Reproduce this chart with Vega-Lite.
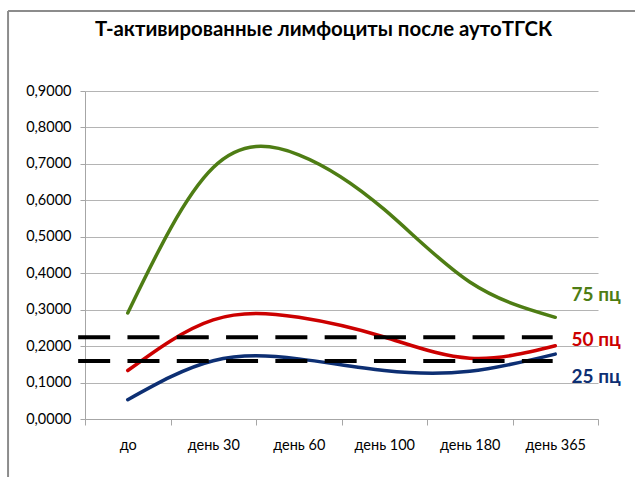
{
  "$schema": "https://vega.github.io/schema/vega-lite/v6.json",
  "width": 513,
  "height": 328,
  "autosize": {"type": "none"},
  "padding": {"left": 85, "top": 91, "right": 37, "bottom": 58},
  "background": "white",
  "title": {
    "text": "Т-активированные лимфоциты после аутоТГСК",
    "font": "Lato",
    "fontSize": 20.4,
    "fontWeight": "bold",
    "color": "#000000",
    "anchor": "middle",
    "dx": -18,
    "offset": -30
  },
  "datasets": {
    "series": [
      {"period": "до", "group": "75 пц", "value": 0.291},
      {"period": "день 30", "group": "75 пц", "value": 0.690},
      {"period": "день 60", "group": "75 пц", "value": 0.725},
      {"period": "день 100", "group": "75 пц", "value": 0.575},
      {"period": "день 180", "group": "75 пц", "value": 0.376},
      {"period": "день 365", "group": "75 пц", "value": 0.279},
      {"period": "до", "group": "50 пц", "value": 0.133},
      {"period": "день 30", "group": "50 пц", "value": 0.272},
      {"period": "день 60", "group": "50 пц", "value": 0.279},
      {"period": "день 100", "group": "50 пц", "value": 0.225},
      {"period": "день 180", "group": "50 пц", "value": 0.167},
      {"period": "день 365", "group": "50 пц", "value": 0.201},
      {"period": "до", "group": "25 пц", "value": 0.053},
      {"period": "день 30", "group": "25 пц", "value": 0.160},
      {"period": "день 60", "group": "25 пц", "value": 0.165},
      {"period": "день 100", "group": "25 пц", "value": 0.133},
      {"period": "день 180", "group": "25 пц", "value": 0.131},
      {"period": "день 365", "group": "25 пц", "value": 0.178}
    ],
    "levels": [
      {"level": 0.224, "from": "до", "to": "день 365"},
      {"level": 0.159, "from": "до", "to": "день 365"}
    ],
    "labels": [
      {"group": "75 пц", "value": 0.341},
      {"group": "50 пц", "value": 0.216},
      {"group": "25 пц", "value": 0.115}
    ]
  },
  "layer": [
    {
      "data": {"name": "series"},
      "mark": {"type": "line", "interpolate": "natural", "strokeWidth": 3.5, "strokeCap": "round"},
      "encoding": {
        "x": {
          "field": "period", "type": "nominal",
          "scale": {"type": "band", "domain": ["до", "день 30", "день 60", "день 100", "день 180", "день 365"], "paddingInner": 0, "paddingOuter": 0},
          "bandPosition": 0.5,
          "axis": {"title": null}
        },
        "y": {
          "field": "value", "type": "quantitative",
          "scale": {"domain": [0, 0.9], "nice": false, "zero": true},
          "axis": {"title": null}
        },
        "color": {
          "field": "group", "type": "nominal",
          "scale": {"domain": ["75 пц", "50 пц", "25 пц"], "range": ["#4e7d14", "#cc0000", "#0d2f73"]},
          "legend": null
        }
      }
    },
    {
      "data": {"name": "levels"},
      "mark": {"type": "rule", "strokeWidth": 4, "strokeDash": [32, 17.3], "color": "#000000"},
      "encoding": {
        "x": {"field": "from", "type": "nominal", "bandPosition": -0.08, "axis": {"title": null}},
        "x2": {"field": "to", "bandPosition": 0.47},
        "y": {"field": "level", "type": "quantitative", "axis": {"title": null}}
      }
    },
    {
      "data": {"name": "labels"},
      "mark": {"type": "text", "font": "Lato", "fontSize": 19, "fontWeight": "bold", "align": "left", "baseline": "middle"},
      "encoding": {
        "x": {"datum": "день 365", "bandPosition": 0.69},
        "y": {"field": "value", "type": "quantitative", "axis": {"title": null}},
        "text": {"field": "group"},
        "color": {
          "field": "group", "type": "nominal",
          "scale": {"domain": ["75 пц", "50 пц", "25 пц"], "range": ["#1f5a12", "#d40000", "#12337a"]},
          "legend": null
        }
      }
    },
    {
      "data": {"values": [{}]},
      "mark": {"type": "rule", "strokeWidth": 2, "color": "#8c8c8c", "clip": false},
      "encoding": {
        "x": {"datum": "до", "bandPosition": -0.9},
        "x2": {"datum": "день 365", "bandPosition": 1.45},
        "y": {"datum": 1.1195}
      }
    },
    {
      "data": {"values": [{}]},
      "mark": {"type": "rule", "strokeWidth": 2, "color": "#8c8c8c", "clip": false},
      "encoding": {
        "x": {"datum": "до", "bandPosition": -0.9},
        "y": {"datum": -0.2},
        "y2": {"datum": 1.1195}
      }
    }
  ],
  "config": {
    "view": {"stroke": null},
    "axisX": {
      "tickBand": "extent",
      "tickSize": 6,
      "tickColor": "#a6a6a6",
      "domainColor": "#a6a6a6",
      "labelFont": "Lato",
      "labelFontSize": 14.5,
      "labelColor": "#000000",
      "labelPadding": 13,
      "labelAngle": 0,
      "grid": false
    },
    "axisY": {
      "values": [0, 0.1, 0.2, 0.3, 0.4, 0.5, 0.6, 0.7, 0.8, 0.9],
      "labelExpr": "replace(format(datum.value, '.4f'), '.', ',')",
      "tickSize": 5,
      "tickColor": "#a6a6a6",
      "domainColor": "#a6a6a6",
      "gridColor": "#b4b4b4",
      "grid": true,
      "labelFont": "Lato",
      "labelFontSize": 14.5,
      "labelColor": "#000000",
      "labelPadding": 9
    }
  }
}
